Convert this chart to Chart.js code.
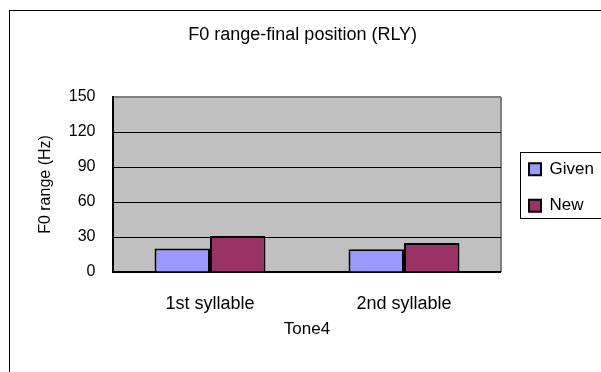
<!DOCTYPE html>
<html lang="en">
<head>
<meta charset="UTF-8">
<title>F0 range-final position (RLY)</title>
<script src="https://cdn.jsdelivr.net/npm/chart.js"></script>
<style>
    html, body {
        margin: 0;
        padding: 0;
        background: #fff;
        overflow: hidden;
    }
    #rangeChart {
        display: block;
    }
</style>
</head>
<body>
<canvas id="rangeChart" width="616" height="372"></canvas>
<script>
const categories = ['1st syllable', '2nd syllable'];
const givenValues = [20.1, 19.5];
const newValues = [30.9, 24.9];
const yTicks = [0, 30, 60, 90, 120, 150];

Chart.defaults.font.family = "'Liberation Sans', Arial, sans-serif";
Chart.defaults.color = '#000';

// grey plot area, outer frame and a box around the legend
const chartFrame = {
    id: 'chartFrame',
    afterLayout(chart) {
        // move the legend a bit away from the plot
        const lg = chart.legend;
        lg.left += 8.5;
        lg.right += 8.5;
        lg.top += 3;
        lg.bottom += 3;
    },
    beforeDraw(chart) {
        const {ctx, chartArea: a} = chart;
        ctx.save();
        ctx.strokeStyle = '#000';
        ctx.lineWidth = 1;
        ctx.strokeRect(9.5, 10.5, chart.width + 20, chart.height + 20);
        ctx.fillStyle = '#c0c0c0';
        ctx.fillRect(a.left, a.top, a.right - a.left, a.bottom - a.top);
        ctx.strokeStyle = '#808080';
        ctx.lineWidth = 2;
        ctx.beginPath();
        ctx.moveTo(a.right, a.top);
        ctx.lineTo(a.right, a.bottom);
        ctx.stroke();
        ctx.restore();
    },
    afterDraw(chart) {
        const {ctx} = chart;
        const hb = chart.legend.legendHitBoxes;
        if (!hb || !hb.length) return;
        const first = hb[0];
        const last = hb[hb.length - 1];
        const x = Math.round(first.left - 8.5) + 0.5;
        const y = Math.round(first.top - 8.5) + 0.5;
        const bottom = Math.round(last.top + last.height + 4) + 0.5;
        ctx.save();
        ctx.strokeStyle = '#000';
        ctx.lineWidth = 1;
        ctx.strokeRect(x, y, chart.width, bottom - y);
        ctx.restore();
    }
};

new Chart(document.getElementById('rangeChart'), {
    type: 'bar',
    data: {
        labels: categories,
        datasets: [
            {
                label: 'Given',
                data: givenValues,
                backgroundColor: '#9999ff',
                borderColor: '#000',
                borderWidth: 2,
                categoryPercentage: 0.572,
                barPercentage: 1
            },
            {
                label: 'New',
                data: newValues,
                backgroundColor: '#993366',
                borderColor: '#000',
                borderWidth: 2,
                categoryPercentage: 0.572,
                barPercentage: 1
            }
        ]
    },
    options: {
        responsive: false,
        animation: false,
        events: [],
        layout: {
            padding: {left: 10, top: 10, right: 20.6, bottom: 32.8}
        },
        plugins: {
            title: {
                display: true,
                text: 'F0 range-final position (RLY)',
                font: {size: 18, weight: 'normal'},
                padding: {top: 14.2, bottom: 51.2}
            },
            legend: {
                position: 'right',
                fullSize: false,
                labels: {
                    boxWidth: 12,
                    boxHeight: 12,
                    padding: 19.5,
                    font: {size: 17}
                }
            },
            tooltip: {enabled: false}
        },
        scales: {
            x: {
                grid: {
                    display: true,
                    drawOnChartArea: false,
                    tickLength: 21.2,
                    tickColor: 'rgba(0,0,0,0)'
                },
                border: {color: '#000', width: 2},
                ticks: {padding: 0, font: {size: 18}},
                title: {
                    display: true,
                    text: 'Tone4',
                    font: {size: 17},
                    padding: {top: 4, bottom: 0}
                }
            },
            y: {
                min: 0,
                max: 150,
                afterBuildTicks: s => {
                    s.ticks = yTicks.map(v => ({value: v}));
                },
                afterFit: s => {
                    s.width = 103;
                },
                grid: {
                    color: c => c.tick && c.tick.value === 150 ? '#808080' : '#000',
                    lineWidth: c => c.tick && c.tick.value === 150 ? 2 : 1,
                    drawTicks: false
                },
                border: {color: '#000', width: 2},
                ticks: {padding: 17.5, font: {size: 16}},
                title: {
                    display: true,
                    text: 'F0 range (Hz)',
                    font: {size: 16},
                    padding: {top: 26.4, bottom: 0}
                }
            }
        }
    },
    plugins: [chartFrame]
});
</script>
</body>
</html>
